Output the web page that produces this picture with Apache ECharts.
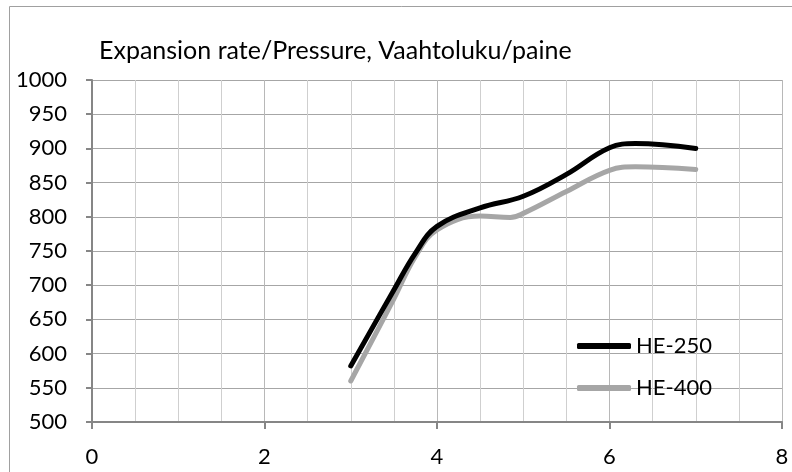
<!DOCTYPE html>
<html>
<head>
<meta charset="utf-8">
<script src="https://cdn.jsdelivr.net/npm/echarts@6/dist/echarts.min.js"></script>
<style>
html,body{margin:0;padding:0;background:#fff;}
#chart{width:792px;height:472px;}
</style>
</head>
<body>
<div id="chart"></div>
<script>
const titleText = 'Expansion rate/Pressure, Vaahtoluku/paine';
const seriesNames = ['HE-250', 'HE-400'];
const he250X = [3, 3.5, 3.75, 4, 4.5, 5, 5.5, 6, 6.3, 7];
const he250Y = [582, 693, 747, 786, 813, 830, 862, 901, 907, 900];
const he400X = [3, 3.5, 3.75, 4, 4.5, 4.85, 5, 5.5, 6, 6.3, 7];
const he400Y = [560, 680, 742, 781, 801, 799, 805, 837, 868, 873, 869];

const font = 'Lato, "Open Sans", sans-serif';
const chart = echarts.init(document.getElementById('chart'));
chart.setOption({
  animation: false,
  backgroundColor: '#fff',
  graphic: [{
    type: 'rect', shape: {x: 9.5, y: 6.5, width: 800, height: 480},
    style: {fill: 'none', stroke: '#a0a0a0', lineWidth: 1}, z: -1
  }],
  title: {
    text: titleText, left: 94, top: 33,
    textStyle: {fontFamily: font, fontSize: 25, fontWeight: 'normal', color: '#000'}
  },
  legend: {
    orient: 'vertical', left: 572, top: 330, itemGap: 20,
    itemWidth: 54, itemHeight: 6, icon: 'roundRect',
    textStyle: {fontFamily: font, fontSize: 22, color: '#000', lineHeight: 22},
    data: seriesNames
  },
  grid: {left: 92, right: 10, top: 80, bottom: 50, containLabel: false},
  xAxis: {
    type: 'value', min: 0, max: 8, interval: 2,
    axisLine: {show: true, onZero: false, lineStyle: {color: '#868686', width: 2}},
    axisTick: {show: true, length: 7, lineStyle: {color: '#868686', width: 2}},
    axisLabel: {fontFamily: font, fontSize: 22, color: '#000', margin: 24, formatter: v => String(v)},
    splitLine: {show: true, lineStyle: {color: '#b8b8b8', width: 1}},
    minorTick: {show: false, splitNumber: 4},
    minorSplitLine: {show: true, lineStyle: {color: '#cfcfcf', width: 1}}
  },
  yAxis: {
    type: 'value', min: 500, max: 1000, interval: 50,
    axisLine: {show: true, onZero: false, lineStyle: {color: '#868686', width: 2}},
    axisTick: {show: true, length: 6, lineStyle: {color: '#868686', width: 2}},
    axisLabel: {fontFamily: font, fontSize: 22, color: '#000', margin: 25, formatter: v => String(v)},
    splitLine: {show: true, lineStyle: {color: '#a6a6a6', width: 1}}
  },
  series: [
    {
      name: seriesNames[0], type: 'line', smooth: 0.4, showSymbol: false, symbol: 'none',
      data: he250X.map((x, i) => [x, he250Y[i]]),
      lineStyle: {color: '#000', width: 5, cap: 'round'},
      itemStyle: {color: '#000'}, z: 3
    },
    {
      name: seriesNames[1], type: 'line', smooth: 0.4, showSymbol: false, symbol: 'none',
      data: he400X.map((x, i) => [x, he400Y[i]]),
      lineStyle: {color: '#a6a6a6', width: 5, cap: 'round'},
      itemStyle: {color: '#a6a6a6'}, z: 2
    }
  ]
});
</script>
</body>
</html>
